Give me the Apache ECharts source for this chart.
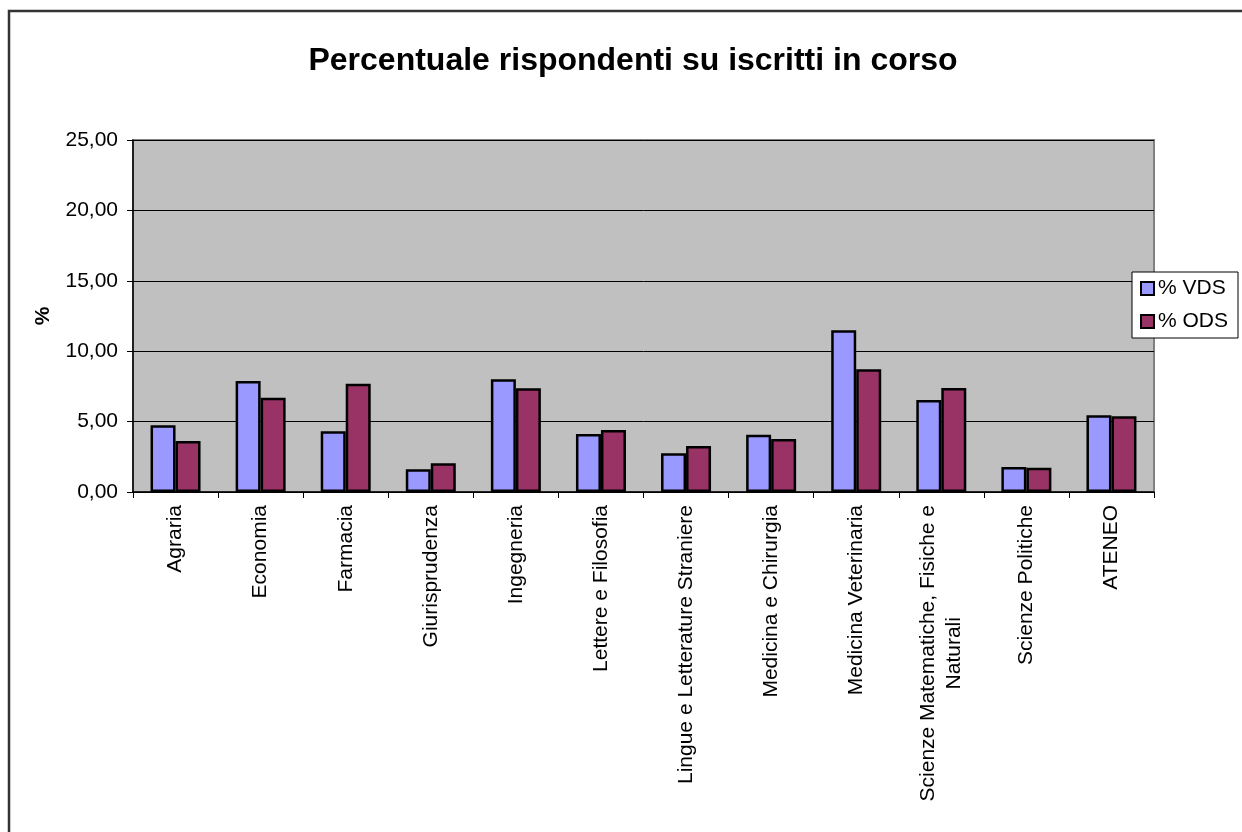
<!DOCTYPE html>
<html>
<head>
<meta charset="utf-8">
<title>Percentuale rispondenti su iscritti in corso</title>
<script src="https://cdn.jsdelivr.net/npm/echarts@6/dist/echarts.min.js"></script>
<style>
  html, body { margin: 0; padding: 0; background: #ffffff; }
  #chart { width: 1242px; height: 832px; }
</style>
</head>
<body>
<div id="chart"></div>
<script>
// Faculties on the category axis
const categories = [
  'Agraria',
  'Economia',
  'Farmacia',
  'Giurisprudenza',
  'Ingegneria',
  'Lettere e Filosofia',
  'Lingue e Letterature Straniere',
  'Medicina e Chirurgia',
  'Medicina Veterinaria',
  'Scienze Matematiche, Fisiche e\nNaturali',
  'Scienze Politiche',
  'ATENEO'
];

// Share of respondents among enrolled students (%)
const vdsValues = [4.74, 7.88, 4.31, 1.61, 8.00, 4.12, 2.75, 4.07, 11.48, 6.53, 1.78, 5.45];
const odsValues = [3.62, 6.70, 7.69, 2.04, 7.36, 4.40, 3.27, 3.76, 8.71, 7.39, 1.73, 5.38];

const seriesNames = ['% VDS', '% ODS'];
const yTicks = { min: 0, max: 25, interval: 5 };

const FONT = 'Arial, "Liberation Sans", sans-serif';

const chart = echarts.init(document.getElementById('chart'), null, { renderer: 'canvas' });

const barStyle = (color) => ({
  color: color,
  borderColor: '#000000',
  borderWidth: 2.5
});

chart.setOption({
  animation: false,
  backgroundColor: '#ffffff',
  textStyle: { fontFamily: FONT },
  graphic: [
    {
      // outer chart frame (left and top edges fall inside the page)
      type: 'rect',
      shape: { x: 9, y: 11, width: 1300, height: 900 },
      style: { fill: 'none', stroke: '#333333', lineWidth: 2.5 },
      silent: true
    }
  ],
  title: {
    text: 'Percentuale rispondenti su iscritti in corso',
    left: 628,
    top: 40,
    textAlign: 'center',
    textStyle: { fontFamily: FONT, fontSize: 32, fontWeight: 'bold', color: '#000000' }
  },
  legend: {
    orient: 'vertical',
    left: 1132,
    top: 272,
    data: seriesNames,
    icon: 'rect',
    itemWidth: 13,
    itemHeight: 13,
    itemGap: 12,
    padding: [6, 10, 6, 8],
    backgroundColor: '#ffffff',
    borderColor: '#000000',
    borderWidth: 1,
    textStyle: { fontFamily: FONT, fontSize: 21, color: '#000000', padding: [0, 0, 0, -1] }
  },
  grid: {
    left: 133,
    right: 88,
    top: 140,
    bottom: 340,
    show: true,
    backgroundColor: '#C0C0C0',
    borderColor: '#808080',
    borderWidth: 2
  },
  xAxis: {
    type: 'category',
    data: categories,
    boundaryGap: true,
    axisLine: { show: true, lineStyle: { color: '#000000', width: 1.5 } },
    axisTick: { show: true, inside: false, length: 6, alignWithLabel: false, lineStyle: { color: '#000000', width: 1 } },
    axisLabel: {
      interval: 0,
      rotate: 90,
      margin: 13,
      color: '#000000',
      fontFamily: FONT,
      fontSize: 21,
      formatter: (v) => v.split('\n').map(line => '{c|' + line + '}').join('\n'),
      rich: {
        c: { align: 'center', fontFamily: FONT, fontSize: 21, color: '#000000', lineHeight: 26 }
      }
    },
    splitLine: { show: false }
  },
  yAxis: {
    type: 'value',
    min: yTicks.min,
    max: yTicks.max,
    interval: yTicks.interval,
    name: '%',
    nameLocation: 'middle',
    nameGap: 79,
    nameRotate: 90,
    nameTextStyle: { fontFamily: FONT, fontSize: 21, fontWeight: 'bold', color: '#000000' },
    axisLine: { show: true, lineStyle: { color: '#000000', width: 1.5 } },
    axisTick: { show: true, inside: false, length: 6, lineStyle: { color: '#000000', width: 1 } },
    axisLabel: {
      margin: 15,
      color: '#000000',
      fontFamily: FONT,
      fontSize: 21,
      formatter: (v) => v.toFixed(2).replace('.', ',')
    },
    splitLine: { show: true, lineStyle: { color: '#000000', width: 1 } }
  },
  series: [
    {
      name: seriesNames[0],
      type: 'bar',
      data: vdsValues,
      barWidth: 25,
      barGap: '0%',
      itemStyle: barStyle('#9999FF')
    },
    {
      name: seriesNames[1],
      type: 'bar',
      data: odsValues,
      barWidth: 25,
      barGap: '0%',
      itemStyle: barStyle('#993366')
    }
  ]
});
</script>
</body>
</html>
